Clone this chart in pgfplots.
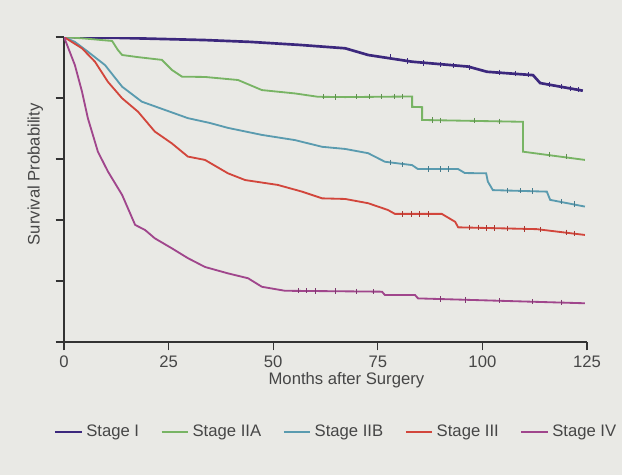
\documentclass[border=0pt]{standalone}
\usepackage{fontspec}
\setmainfont{Liberation Sans}
\usepackage{pgfplots}
\pgfplotsset{compat=1.18}
\usepackage{pgfplotstable}
\definecolor{bgc}{RGB}{233,233,229}
\definecolor{txt}{RGB}{70,70,70}
\definecolor{sI}{RGB}{60,40,125}
\definecolor{sIIA}{RGB}{120,180,100}
\definecolor{sIIB}{RGB}{90,155,175}
\definecolor{sIII}{RGB}{210,70,60}
\definecolor{sIV}{RGB}{160,70,140}

\pgfplotstableread{
m s
0 1.0
13.4 0.997
33.7 0.990
44.5 0.984
56.4 0.974
67.2 0.963
72.7 0.941
83.2 0.919
96.6 0.903
101.1 0.886
112.1 0.875
113.8 0.849
124.0 0.824
}\stageI
\pgfplotstableread{
m s
0 1.0
5 0.995
11.5 0.987
12.9 0.957
13.9 0.941
17.7 0.934
23.4 0.925
25.8 0.892
28.2 0.870
33.7 0.869
41.6 0.859
47.3 0.826
55.2 0.815
60.7 0.804
67.2 0.803
83.2 0.805
83.2 0.771
85.6 0.770
85.6 0.728
109.7 0.722
109.7 0.624
124.5 0.597
}\stageIIA
\pgfplotstableread{
m s
0 1.0
2.6 0.984
5.7 0.952
9.8 0.908
13.9 0.837
18.6 0.788
24.1 0.761
29.6 0.734
34.9 0.718
39.2 0.702
47.3 0.679
55.2 0.662
61.7 0.640
67.2 0.633
72.7 0.619
76.7 0.591
83.2 0.580
84.6 0.567
94.2 0.567
95.8 0.554
100.9 0.553
101.3 0.526
102.5 0.498
115.4 0.493
116.2 0.466
124.5 0.444
}\stageIIB
\pgfplotstableread{
m s
0 1.0
4.3 0.963
7.4 0.919
10.5 0.853
13.9 0.799
17.7 0.755
21.7 0.690
25.8 0.651
29.6 0.608
33.7 0.597
39.2 0.553
43.3 0.531
51.1 0.515
56.9 0.493
61.7 0.471
67.2 0.469
72.7 0.455
77.4 0.433
79.1 0.420
90.3 0.420
93.5 0.394
94.2 0.376
113.0 0.370
124.5 0.351
}\stageIII
\pgfplotstableread{
m s
0 1.0
2.6 0.908
4.3 0.821
5.7 0.734
8.1 0.624
10.5 0.559
13.9 0.482
17.0 0.384
19.4 0.367
21.7 0.340
25.8 0.307
29.6 0.275
33.7 0.246
39.2 0.225
44.0 0.209
47.3 0.181
52.8 0.168
76.0 0.165
76.7 0.154
83.9 0.154
84.6 0.143
124.5 0.127
}\stageIV

\begin{document}
\begin{tikzpicture}
\fill[bgc] (-38.4pt,-79.8pt) rectangle (334.8pt,205.2pt);
\begin{axis}[
  at={(0,0)}, anchor=south west,
  scale only axis, width=313.8pt, height=183pt,
  xmin=0, xmax=125, ymin=0, ymax=1,
  axis x line*=bottom, axis y line*=left,
  axis line style={-, black!80, line width=0.8pt},
  xtick={0,25,...,125}, ytick={0,0.2,...,1}, yticklabels={},
  tick align=outside, major tick length=5pt,
  tick style={black!80, line width=0.8pt},
  /pgf/number format/assume math mode=true,
  ticklabel style={font=\fontsize{10}{12}\selectfont, text=txt},
  xlabel={Months after Surgery}, ylabel={Survival Probability},
  label style={font=\fontsize{10}{12}\selectfont, text=txt},
  xlabel style={at={(axis description cs:0.54,-0.125)}, anchor=center},
  ylabel style={at={(axis description cs:-0.055,0.55)}, anchor=center},
  legend style={at={(axis description cs:-0.03,-0.295)}, anchor=west,
    draw=none, fill=none, font=\fontsize{10}{12}\selectfont, text=txt,
    /tikz/every even column/.append style={column sep=11pt}},
  legend columns=-1,
  legend image code/.code={\draw[#1] (0pt,0pt) -- (16pt,0pt);},
  cens/.style={only marks, mark=|, mark size=1.6pt, forget plot, mark options={line width=0.6pt}},
]
\addplot[sI, line width=1.6pt] table[x=m,y=s] {\stageI};
\addlegendentry{Stage I}
\addplot[sIIA, line width=1.1pt] table[x=m,y=s] {\stageIIA};
\addlegendentry{Stage IIA}
\addplot[sIIB, line width=1.1pt] table[x=m,y=s] {\stageIIB};
\addlegendentry{Stage IIB}
\addplot[sIII, line width=1.1pt] table[x=m,y=s] {\stageIII};
\addlegendentry{Stage III}
\addplot[sIV, line width=1.1pt] table[x=m,y=s] {\stageIV};
\addlegendentry{Stage IV}
\addplot[sI, cens] coordinates {(78,0.935) (82,0.921) (86,0.915) (90,0.910) (93,0.906) (97,0.901) (104,0.884) (108,0.880) (111,0.876) (116,0.845) (119,0.838) (121,0.832) (123,0.827)};
\addplot[sIIA!80!black, cens] coordinates {(62,0.804) (65,0.803) (70,0.804) (73,0.804) (76,0.805) (79,0.805) (81,0.805) (88,0.728) (90,0.727) (98,0.726) (104,0.724) (116,0.615) (120,0.608)};
\addplot[sIIB!80!black, cens] coordinates {(78,0.589) (81,0.582) (87,0.567) (90,0.567) (92,0.567) (106,0.497) (109,0.496) (112,0.495) (119,0.460) (122,0.452)};
\addplot[sIII!80!black, cens] coordinates {(81,0.420) (83,0.420) (85,0.420) (87,0.420) (97,0.375) (99,0.375) (101,0.374) (103,0.374) (106,0.373) (110,0.371) (114,0.369) (120,0.360) (122,0.356)};
\addplot[sIV!80!black, cens] coordinates {(56,0.168) (58,0.168) (60,0.167) (65,0.167) (70,0.166) (74,0.165) (90,0.141) (96,0.138) (104,0.135) (112,0.132) (119,0.130)};
\end{axis}
\pgfresetboundingbox
\path[use as bounding box] (-38.4pt,-79.8pt) rectangle (334.8pt,205.2pt);
\end{tikzpicture}
\end{document}
